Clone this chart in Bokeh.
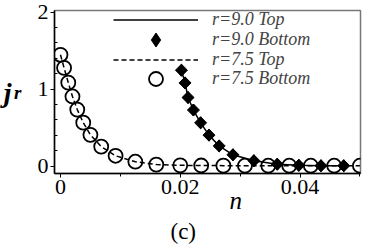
import math
from bokeh.plotting import figure
from bokeh.models import (FixedTicker, CustomJSTickFormatter, Legend, LegendItem,
                          ColumnDataSource, Range1d, LinearAxis, Title)
from bokeh.embed import file_html
from bokeh.resources import INLINE

# r = 9.0 (diamonds, solid line)
n_r90 = [0.0202, 0.0208, 0.0213, 0.0222, 0.0234, 0.0248, 0.0265, 0.0288, 0.0323,
         0.0362, 0.0398, 0.0435, 0.0473]
j_r90_bottom = [1.245, 1.08, 0.89, 0.728, 0.562, 0.402, 0.262, 0.147, 0.07,
                0.025, 0.01, 0.005, 0.005]
j_r90_top = [1.245, 1.08, 0.89, 0.728, 0.562, 0.402, 0.262, 0.147, 0.07,
             0.025, 0.01, 0.005, 0.005]

# r = 7.5 (circles, dashed line)
n_r75 = [0.0, 0.0006, 0.0013, 0.002, 0.0028, 0.0038, 0.005, 0.0068, 0.0092, 0.0125,
         0.016, 0.02, 0.0235, 0.0272, 0.0308, 0.0347, 0.0382, 0.0418, 0.0457, 0.05]
j_r75_bottom = [1.445, 1.275, 1.083, 0.904, 0.734, 0.564, 0.406, 0.253, 0.134, 0.057,
                0.02, 0.01, 0.008, 0.006, 0.005, 0.005, 0.005, 0.005, 0.005, 0.005]
j_r75_top = [1.445, 1.275, 1.083, 0.904, 0.734, 0.564, 0.406, 0.253, 0.134, 0.057,
             0.02, 0.01, 0.008, 0.006, 0.005, 0.005, 0.005, 0.005, 0.005, 0.005]

labels = ["r=9.0 Top", "r=9.0 Bottom", "r=7.5 Top", "r=7.5 Bottom"]
x_ticks = [0, 0.02, 0.04]
x_minor = [0.01, 0.03, 0.05]
y_ticks = [0, 1, 2]
y_minor = [0.2, 0.4, 0.6, 0.8, 1.2, 1.4, 1.6, 1.8]
x_label = "n"
y_label_main = "j"
y_label_sub = "r"
caption = "(c)"

FONT = "Liberation Serif"
NBSP = "\u00a0"

p = figure(width=362, height=244, output_backend="svg", toolbar_location=None,
           x_range=Range1d(-0.001, 0.0501), y_range=Range1d(-0.096, 2.02),
           min_border_left=53, min_border_right=2, min_border_top=10, min_border_bottom=70)
p.background_fill_color = "white"
p.border_fill_color = "white"
p.outline_line_color = "#777777"
p.outline_line_width = 1.5
p.xgrid.visible = False
p.ygrid.visible = False

s90 = ColumnDataSource(dict(n=n_r90, b=j_r90_bottom, t=j_r90_top))
s75 = ColumnDataSource(dict(n=n_r75, b=j_r75_bottom, t=j_r75_top))

l90 = p.line("n", "t", source=s90, line_color="black", line_width=1.5)
l75 = p.line("n", "t", source=s75, line_color="black", line_width=1.5, line_dash="5 3")
c75 = p.scatter("n", "b", source=s75, marker="circle", size=14, fill_alpha=0,
                line_color="black", line_width=1.8)
p.scatter("n", "b", source=s90, marker="square", size=8.5, angle=math.pi / 4,
          fill_color="black", line_color="black")
d90 = p.scatter("n", "b", source=s90, marker="diamond", size=12,
                fill_color="black", line_color="black")

for ax in (p.xaxis[0], p.yaxis[0]):
    ax.axis_line_color = "black"
    ax.axis_line_width = 1.5
    ax.major_tick_line_color = "black"
    ax.minor_tick_line_color = "black"
    ax.major_label_text_font = FONT
    ax.major_label_text_font_size = "22px"
    ax.major_label_text_color = "black"

p.xaxis.ticker = FixedTicker(ticks=x_ticks, minor_ticks=x_minor)
p.yaxis.ticker = FixedTicker(ticks=y_ticks, minor_ticks=y_minor)
p.xaxis.formatter = CustomJSTickFormatter(code="return tick == 0 ? '0' : tick.toFixed(2);")
p.yaxis.formatter = CustomJSTickFormatter(code="return tick.toFixed(0);")
p.xaxis.major_tick_out = 4
p.xaxis.major_tick_in = 0
p.xaxis.minor_tick_out = 3
p.xaxis.minor_tick_in = 0
p.xaxis.major_label_standoff = 2
p.yaxis.major_tick_out = 4
p.yaxis.major_tick_in = 0
p.yaxis.minor_tick_out = 0
p.yaxis.minor_tick_in = 3
p.yaxis.major_label_standoff = 2

# x label "n" (shifted right of centre with non-breaking spaces)
p.xaxis.axis_label = NBSP * 9 + x_label
p.xaxis.axis_label_text_font = FONT
p.xaxis.axis_label_text_font_style = "italic"
p.xaxis.axis_label_text_font_size = "25px"
p.xaxis.axis_label_text_color = "black"
p.xaxis.axis_label_standoff = -10

# y label: subscript "r" on the tick axis, "j" on an extra blank axis further left
p.yaxis.axis_label = y_label_sub
p.yaxis.axis_label_orientation = "horizontal"
p.yaxis.axis_label_text_font = FONT
p.yaxis.axis_label_text_font_style = "bold italic"
p.yaxis.axis_label_text_font_size = "19px"
p.yaxis.axis_label_text_color = "black"
p.yaxis.axis_label_text_baseline = "middle"
p.yaxis.axis_label_standoff = 13

jaxis = LinearAxis(ticker=FixedTicker(ticks=[]), axis_label=y_label_main,
                   axis_label_orientation="horizontal", axis_label_standoff=0,
                   axis_label_text_font=FONT, axis_label_text_font_style="bold italic",
                   axis_label_text_font_size="28px", axis_label_text_color="black",
                   axis_label_text_baseline="middle",
                   axis_line_alpha=0, major_tick_out=0, major_tick_in=0,
                   minor_tick_out=0, minor_tick_in=0, major_label_standoff=0)
p.add_layout(jaxis, "left")

cap = Title(text=caption, align="left", offset=116, standoff=1,
            text_font=FONT, text_font_style="normal", text_font_size="23px",
            text_color="black")
p.add_layout(cap, "below")

common = dict(glyph_width=85, label_height=19, label_standoff=14, padding=0, margin=0,
              border_line_alpha=0, background_fill_alpha=0,
              label_text_font=FONT, label_text_font_style="italic",
              label_text_font_size="18px")
legend_lines = Legend(items=[LegendItem(label=labels[0], renderers=[l90]),
                             LegendItem(label=labels[2], renderers=[l75])],
                      location=(59, 103), glyph_height=19, spacing=19, **common)
legend_marks = Legend(items=[LegendItem(label=labels[1], renderers=[d90]),
                             LegendItem(label=labels[3], renderers=[c75])],
                      location=(59, 77), glyph_height=35, spacing=4, **common)
p.add_layout(legend_lines)
p.add_layout(legend_marks)

open("out.html", "w").write(file_html(p, INLINE))
